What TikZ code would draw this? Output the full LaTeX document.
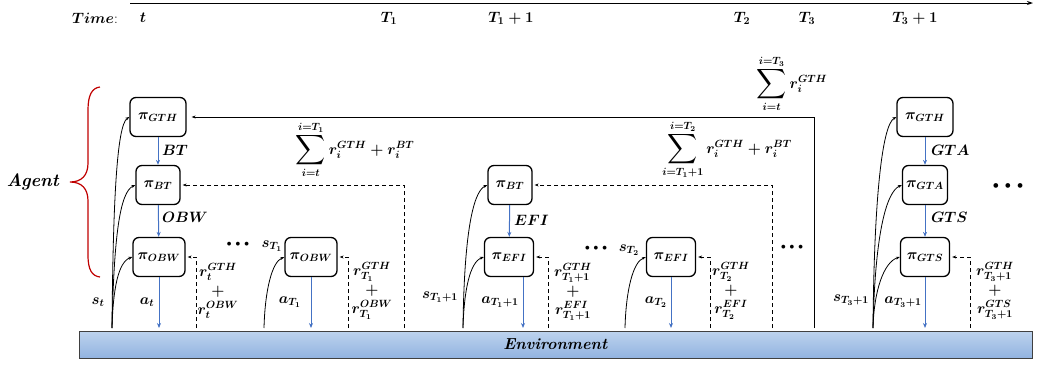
\RequirePackage{fix-cm}
\documentclass[tikz,border=0pt]{standalone}
\usepackage{amsmath}
\usepackage{graphicx}
\usetikzlibrary{arrows.meta}
\definecolor{arrowblue}{HTML}{4472C4}
\definecolor{bracered}{HTML}{C00000}
\definecolor{envtop}{HTML}{BDD3EE}
\definecolor{envbot}{HTML}{92B3E0}
\definecolor{envline}{HTML}{404040}
\newcommand{\BigSum}{\mathop{\vcenter{\hbox{\scalebox{1.45}{$\displaystyle\sum$}}}}\limits}
\tikzset{
  pol/.style={draw, line width=1.3pt, rounded corners=6pt, fill=white, inner sep=0pt,
    minimum height=39pt, font=\fontsize{15}{18}\selectfont\boldmath},
  lbl/.style={inner sep=0pt, font=\fontsize{15}{19}\selectfont\boldmath},
  lblsum/.style={inner sep=0pt, font=\fontsize{15}{18}\selectfont\boldmath},
  dotsnode/.style={inner sep=0pt, font=\fontsize{14}{16}\selectfont},
  bluearrow/.style={draw=arrowblue, line width=1pt, -{Stealth[length=5pt,width=4pt]}},
  stateline/.style={line width=0.8pt, -{Stealth[length=4pt,width=3pt]}},
  rewline/.style={dash pattern=on 4pt off 3pt, line width=0.9pt, -{Stealth[length=4pt,width=3pt]}, shorten >=2pt},
  retline/.style={line width=1pt, -{Stealth[length=4pt,width=3pt]}, shorten >=5pt},
}
\begin{document}
\begin{tikzpicture}[x=1pt,y=-1pt]
\useasboundingbox (0,0) rectangle (1037,365);

% time axis
\coordinate (tl) at (130,3);
\coordinate (tr) at (1033,3);
\draw[line width=1pt,-{Stealth[length=6pt,width=4pt]}] (tl) -- (tr);
\node[lbl] (time) at (95,18) {$Time$:};
\node[lbl] (tt) at (143,18) {$t$};
\node[lbl] (tT1) at (389,18) {$T_1$};
\node[lbl] (tT11) at (511,18) {$T_1+1$};
\node[lbl] (tT2) at (742,18) {$T_2$};
\node[lbl] (tT3) at (807,18) {$T_3$};
\node[lbl] (tT31) at (915,18) {$T_3+1$};

% environment
\node[draw=envline, line width=1pt, top color=envtop, bottom color=envbot, minimum width=953pt,
  minimum height=27pt, inner sep=0pt, font=\fontsize{16}{18}\selectfont] (env) at (555.5,344.5)
  {\textbf{\textit{Environment}}};

% agent brace
\node[inner sep=0pt, font=\fontsize{18}{20}\selectfont] (agent) at (33,182) {\textbf{\textit{Agent}}};
\draw[bracered, line width=1.2pt] (100,87) .. controls (92,88) and (88,95) .. (88,110) -- (88,163)
  .. controls (88,175) and (82,182) .. (70,182) .. controls (82,182) and (88,189) .. (88,201)
  -- (88,255) .. controls (88,270) and (92,276) .. (100,277);

% policy boxes
\node[pol, minimum width=56pt] (g1) at (158,117) {$\pi_{GTH}$};
\node[pol, minimum width=44pt] (b1) at (158,185) {$\pi_{BT}$};
\node[pol, minimum width=52pt] (o1) at (159,257) {$\pi_{OBW}$};
\node[pol, minimum width=52pt] (o2) at (311,257) {$\pi_{OBW}$};
\node[pol, minimum width=44pt] (b2) at (510,185) {$\pi_{BT}$};
\node[pol, minimum width=49pt] (e1) at (509,257) {$\pi_{EFI}$};
\node[pol, minimum width=49pt] (e2) at (671,257) {$\pi_{EFI}$};
\node[pol, minimum width=56pt] (g3) at (925,117) {$\pi_{GTH}$};
\node[pol, minimum width=45pt] (t3) at (925,185) {$\pi_{GTA}$};
\node[pol, minimum width=49pt] (s5) at (925,257) {$\pi_{GTS}$};

% option arrows
\draw[bluearrow] (g1) -- (b1);
\draw[bluearrow] (b1) -- (o1);
\draw[bluearrow] (b2) -- (e1);
\draw[bluearrow] (g3) -- (t3);
\draw[bluearrow] (t3) -- (s5);
\node[lbl, anchor=west] (lBT) at (162,150) {$BT$};
\node[lbl, anchor=west] (lOBW) at (162,217) {$OBW$};
\node[lbl, anchor=west] (lEFI) at (514,220) {$EFI$};
\node[lbl, anchor=west] (lGTA) at (931,150) {$GTA$};
\node[lbl, anchor=west] (lGTS) at (931,217) {$GTS$};

% action arrows
\coordinate (a1) at (159,328);
\coordinate (a2) at (311,328);
\coordinate (a3) at (523,328);
\coordinate (a4) at (671,328);
\coordinate (a5) at (925,328);
\draw[bluearrow] (o1.south) -- (a1);
\draw[bluearrow] (o2.south) -- (a2);
\draw[bluearrow] (e1.south -| a3) -- (a3);
\draw[bluearrow] (e2.south) -- (a4);
\draw[bluearrow] (s5.south) -- (a5);
\node[lbl] (lat) at (147,302) {$a_t$};
\node[lbl] (laT1) at (290,302) {$a_{T_1}$};
\node[lbl] (laT11) at (500,302) {$a_{T_1+1}$};
\node[lbl] (laT2) at (656,302) {$a_{T_2}$};
\node[lbl] (laT31) at (903,302) {$a_{T_3+1}$};

% state curves
\coordinate (c1) at (112,328);
\coordinate (c2) at (264,328);
\coordinate (c3) at (463,328);
\coordinate (c4) at (625,328);
\coordinate (c5) at (873,328);
\draw[stateline] (c1) .. controls (113,200) and (117,125) .. (g1.west);
\draw[stateline] (c1) .. controls (114,235) and (120,192) .. (b1.west);
\draw[stateline] (c1) .. controls (113,290) and (118,262) .. (o1.west);
\draw[stateline] (c2) .. controls (265,290) and (272,262) .. (o2.west);
\draw[stateline] (c3) .. controls (464,240) and (472,192) .. (b2.west);
\draw[stateline] (c3) .. controls (464,290) and (470,262) .. (e1.west);
\draw[stateline] (c4) .. controls (626,290) and (633,262) .. (e2.west);
\draw[stateline] (c5) .. controls (874,200) and (882,125) .. (g3.west);
\draw[stateline] (c5) .. controls (875,235) and (886,192) .. (t3.west);
\draw[stateline] (c5) .. controls (874,290) and (884,262) .. (s5.west);
\node[lbl] (lst) at (98,302) {$s_t$};
\node[lbl] (lsT1) at (272,246) {$s_{T_1}$};
\node[lbl] (lsT11) at (440,297) {$s_{T_1+1}$};
\node[lbl] (lsT2) at (629,250) {$s_{T_2}$};
\node[lbl] (lsT31) at (851,300) {$s_{T_3+1}$};

% low level rewards
\coordinate (d1) at (196,328);
\coordinate (d2) at (348,328);
\coordinate (d3) at (548,328);
\coordinate (d4) at (710,328);
\coordinate (d5) at (970,328);
\draw[rewline] (d1) |- (o1.east);
\draw[rewline] (d2) |- (o2.east);
\draw[rewline] (d3) |- (e1.east);
\draw[rewline] (d4) |- (e2.east);
\draw[rewline] (d5) |- (s5.east);
\node[lbl, align=center] (r1) at (218,291) {$r_t^{GTH}$\\$+$\\$r_t^{OBW}$};
\node[lbl, align=center] (r2) at (372,291) {$r_{T_1}^{GTH}$\\$+$\\$r_{T_1}^{OBW}$};
\node[lbl, align=center] (r3) at (573,292) {$r_{T_1+1}^{GTH}$\\$+$\\$r_{T_1+1}^{EFI}$};
\node[lbl, align=center] (r4) at (731,291) {$r_{T_2}^{GTH}$\\$+$\\$r_{T_2}^{EFI}$};
\node[lbl, align=center] (r5) at (995,291) {$r_{T_3+1}^{GTH}$\\$+$\\$r_{T_3+1}^{GTS}$};

% mid level rewards
\coordinate (m1) at (404,328);
\coordinate (m2) at (772,328);
\draw[rewline] (m1) |- (b1.east);
\draw[rewline] (m2) |- (b2.east);
\node[lblsum] (sum1) at (355,150) {$\BigSum_{i=t}^{i=T_1} r_i^{GTH}+r_i^{BT}$};
\node[lblsum] (sum2) at (727,150) {$\BigSum_{i=T_1+1}^{i=T_2} r_i^{GTH}+r_i^{BT}$};

% high level reward
\coordinate (h1) at (814,328);
\draw[retline] (h1) |- (g1.east);
\node[lblsum] (sum3) at (792,84) {$\BigSum_{i=t}^{i=T_3} r_i^{GTH}$};

% dots
\node[dotsnode] (dots1) at (238,245) {\textbullet\kern-2pt\textbullet\kern-2pt\textbullet};
\node[dotsnode] (dots2) at (596,249) {\textbullet\kern-2pt\textbullet\kern-2pt\textbullet};
\node[dotsnode] (dots3) at (792,248) {\textbullet\kern-2pt\textbullet\kern-2pt\textbullet};
\node[dotsnode, font=\fontsize{21}{22}\selectfont] (dots4) at (1008,188) {\textbullet\kern-3pt\textbullet\kern-3pt\textbullet};
\end{tikzpicture}
\end{document}
